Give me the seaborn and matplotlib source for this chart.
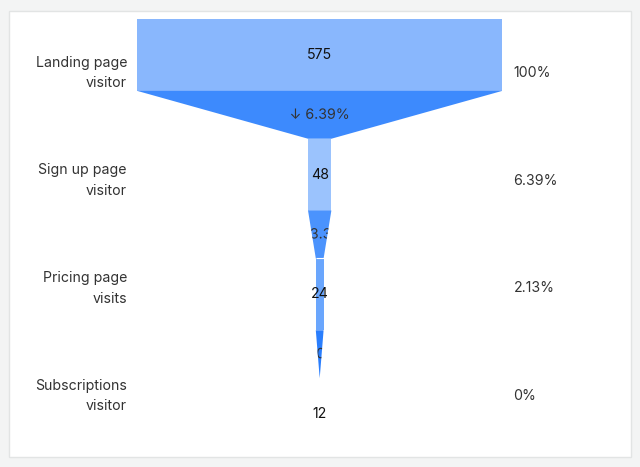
import matplotlib
matplotlib.use("Agg")
import matplotlib.pyplot as plt
import matplotlib.patheffects as pe
import numpy as np
import pandas as pd
import seaborn as sns
from matplotlib.patches import Polygon, Rectangle

stages = ["Landing page\nvisitor", "Sign up page\nvisitor", "Pricing page\nvisits", "Subscriptions\nvisitor"]
counts = [575, 48, 24, 12]
pct_of_first = [100, 6.39, 2.13, 0]
step_labels = ["\u2193 6.39%", "\u2193 33.33%", "\u2193 0%"]

stage_colors = ["#89b7fd", "#9bc3fd", "#6aa6fd", "#5a9cfd"]
step_colors = ["#3d8afd", "#4b93fd", "#2a7efd"]

sns.set_theme(style="white")
plt.rcParams["font.family"] = ["Inter", "DejaVu Sans"]
TXT = "#333333"
FS = 10.2

fig = plt.figure(figsize=(6.4, 4.67), dpi=100, facecolor="#f3f4f4")
card = Rectangle((8.6 / 640, 1 - 457 / 467), 622.6 / 640, 446.5 / 467,
                 transform=fig.transFigure, facecolor="white",
                 edgecolor="#e2e4e4", linewidth=1, zorder=-5)
fig.add_artist(card)
ax = fig.add_axes([137 / 640, 1 - 450 / 467, 365.4 / 640, 431 / 467])
ax.set_facecolor("none")

df = pd.DataFrame({"stage": stages, "half": np.array(pct_of_first) / 2})
bar_h = 0.6
for sign in (1, -1):
    sns.barplot(data=df.assign(half=sign * df["half"]), x="half", y="stage", hue="stage",
                palette=stage_colors, saturation=1, orient="h", width=bar_h,
                linewidth=0, legend=False, ax=ax)

# connecting trapezoids between stages, label clipped to the shape
for i, (lab, col) in enumerate(zip(step_labels, step_colors)):
    top_w = pct_of_first[i] / 2
    bot_w = pct_of_first[i + 1] / 2
    y0, y1 = i + bar_h / 2, i + 1 - bar_h / 2
    poly = Polygon([(-top_w, y0), (top_w, y0), (bot_w, y1), (-bot_w, y1)],
                   closed=True, facecolor=col, edgecolor="none")
    ax.add_patch(poly)
    t = ax.text(0, i + 0.5, lab, ha="center", va="center", fontsize=FS, color=TXT,
                path_effects=[pe.Normal()], clip_on=True)
    t.set_clip_path(poly)

# thin white seam between the second step and the third bar
ax.plot([-pct_of_first[2] / 2, pct_of_first[2] / 2], [2 - bar_h / 2] * 2,
        color="white", linewidth=0.8, solid_capstyle="butt")

for i, c in enumerate(counts):
    ax.text(0, i, str(c), ha="center", va="center", fontsize=FS, color="#111111")

n = len(stages)
for i, (lab, p) in enumerate(zip(stages, pct_of_first)):
    yf = 1 - (i + 0.5) / n
    ax.annotate(lab, xy=(0, yf), xycoords="axes fraction", xytext=(-10, 0),
                textcoords="offset pixels", ha="right", va="center",
                fontsize=FS, color=TXT, linespacing=1.6)
    ax.annotate(f"{p:g}%", xy=(1, yf), xycoords="axes fraction", xytext=(11, 0),
                textcoords="offset pixels", ha="left", va="center",
                fontsize=FS, color=TXT)

ax.set_xlim(-50, 50)
ax.set_ylim(3.3, -0.3)
ax.set_axis_off()

fig.savefig("out.png", dpi=100, facecolor=fig.get_facecolor())
